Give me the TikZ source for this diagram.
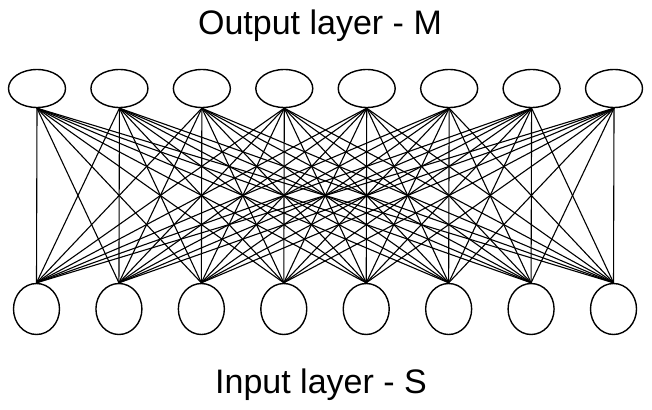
\documentclass[tikz,border=0pt]{standalone}
\usepackage{fontspec}
\setmainfont{Liberation Sans}
\usetikzlibrary{shapes.geometric}
\begin{document}
\begin{tikzpicture}[x=1pt,y=-1pt,
  outnode/.style={draw,ellipse,line width=1.4pt,minimum width=57pt,minimum height=38pt,inner sep=0pt},
  innode/.style={draw,ellipse,line width=1.4pt,minimum width=46pt,minimum height=51pt,inner sep=0pt},
  conn/.style={line width=1.1pt},
  title/.style={font=\fontsize{34}{40}\selectfont,anchor=base,inner sep=0pt}]
\useasboundingbox (0,0) rectangle (652,409);
\foreach \i in {0,...,7} {
  \node[outnode] (t\i) at ({37+82.43*\i},88.5) {};
  \node[innode] (b\i) at ({36.5+82.43*\i},309) {};
}
\foreach \i in {0,...,7} {
  \foreach \j in {0,...,7} {
    \draw[conn] (t\i.south) -- (b\j.north);
  }
}
\node[title] (otitle) at (320,35) {Output layer - M};
\node[title] (ititle) at (321,393) {Input layer - S};
\end{tikzpicture}
\end{document}
